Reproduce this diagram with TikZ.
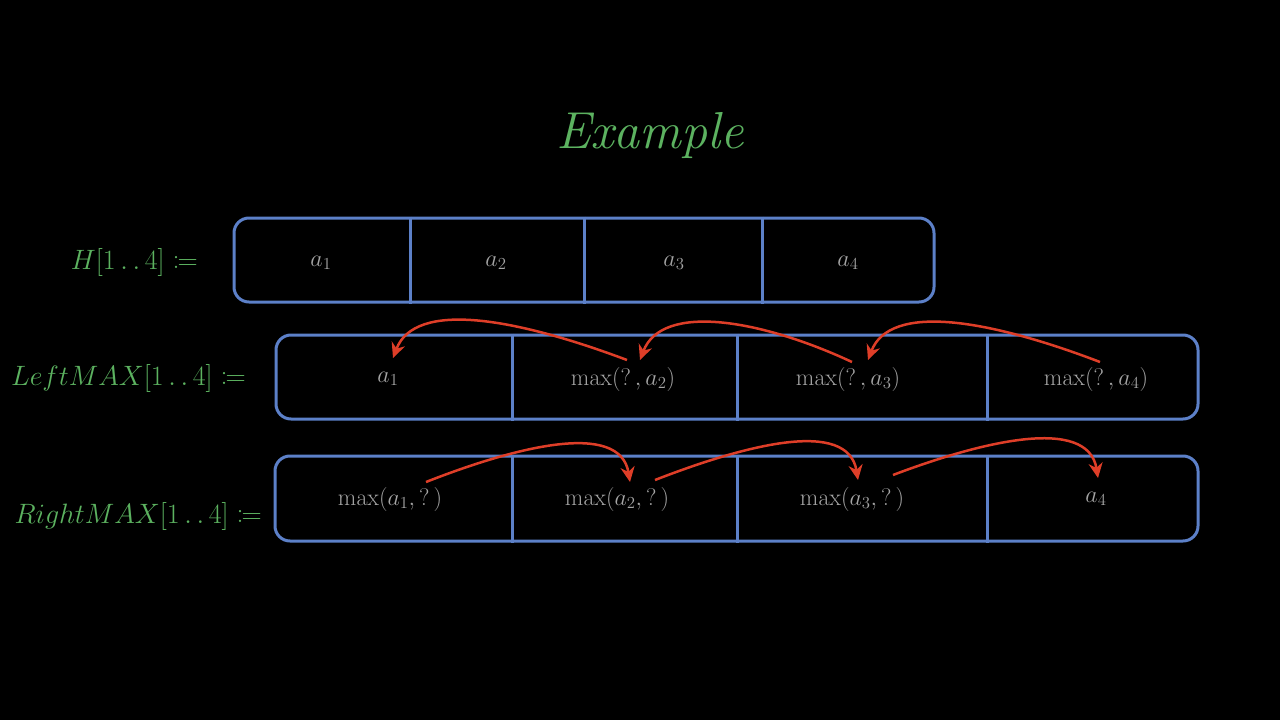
\RequirePackage{fix-cm}
\documentclass[tikz,border=0pt]{standalone}
\usepackage{amsmath,mathtools}
\usetikzlibrary{arrows.meta}
\definecolor{bg}{RGB}{0,0,0}
\definecolor{boxblue}{RGB}{92,128,200}
\definecolor{txtgray}{RGB}{165,165,165}
\definecolor{lblgreen}{RGB}{92,178,96}
\definecolor{arrred}{RGB}{222,62,40}
\newcommand{\rng}{[1\mathinner{\ldotp\ldotp}4]}
\tikzset{
 rowbox/.style={draw=boxblue, line width=3pt, rounded corners=15pt, inner sep=0pt},
 divider/.style={draw=boxblue, line width=3pt},
 celltext/.style={text=txtgray, font=\fontsize{24}{28}\selectfont, inner sep=0pt},
 lbl/.style={text=lblgreen, font=\fontsize{28}{32}\selectfont, inner sep=0pt},
 curvearrow/.style={draw=arrred, line width=2.5pt, -{Stealth[length=15pt,width=14pt]}},
}
\begin{document}
\begin{tikzpicture}[x=1pt,y=-1pt]
\fill[bg] (0,0) rectangle (1280,720);
\useasboundingbox (0,0) rectangle (1280,720);

\node[text=lblgreen, font=\fontsize{52}{60}\selectfont\itshape] (title) at (650,135) {Example};

% Row H
\node[rowbox, minimum width=700pt, minimum height=84pt] (hbox) at (584,260) {};
\foreach \x in {410,584,762}{
  \draw[divider] (hbox.north -| \x,0) -- (hbox.south -| \x,0);
}
\node[lbl, anchor=east] (hlbl) at (198,262) {$H\rng \coloneqq$};
\node[celltext] (h1) at (321,263) {$a_1$};
\node[celltext] (h2) at (496,263) {$a_2$};
\node[celltext] (h3) at (674,263) {$a_3$};
\node[celltext] (h4) at (848,263) {$a_4$};

% Row LeftMAX
\node[rowbox, minimum width=922pt, minimum height=84pt] (lbox) at (737,377) {};
\foreach \x in {512,737,987}{
  \draw[divider] (lbox.north -| \x,0) -- (lbox.south -| \x,0);
}
\node[lbl, anchor=east] (llbl) at (246,378) {$LeftMAX\rng \coloneqq$};
\node[celltext] (l1) at (388,379) {$a_1$};
\node[celltext] (l2) at (623,379) {$\max(?\,,a_2)$};
\node[celltext] (l3) at (848,379) {$\max(?\,,a_3)$};
\node[celltext] (l4) at (1096,379) {$\max(?\,,a_4)$};

% Row RightMAX
\node[rowbox, minimum width=923pt, minimum height=85pt] (rbox) at (736.5,498.5) {};
\foreach \x in {512,737,987}{
  \draw[divider] (rbox.north -| \x,0) -- (rbox.south -| \x,0);
}
\node[lbl, anchor=east] (rlbl) at (262,516) {$RightMAX\rng \coloneqq$};
\node[celltext] (r1) at (390,499) {$\max(a_1,?\,)$};
\node[celltext] (r2) at (617,499) {$\max(a_2,?\,)$};
\node[celltext] (r3) at (852,499) {$\max(a_3,?\,)$};
\node[celltext] (r4) at (1096,499) {$a_4$};

% arrow endpoints
\coordinate (la1s) at (627,360); \coordinate (la1e) at (393,358);
\coordinate (la2s) at (852,362); \coordinate (la2e) at (640,360);
\coordinate (la3s) at (1100,362); \coordinate (la3e) at (868,360);
\coordinate (ra1s) at (426,482); \coordinate (ra1e) at (630,482);
\coordinate (ra2s) at (655,480); \coordinate (ra2e) at (858,480);
\coordinate (ra3s) at (893,475); \coordinate (ra3e) at (1098,478);

\draw[curvearrow] (la1s) .. controls (515,318) and (415,300) .. (la1e);
\draw[curvearrow] (la2s) .. controls (762,320) and (662,302) .. (la2e);
\draw[curvearrow] (la3s) .. controls (990,320) and (890,302) .. (la3e);

\draw[curvearrow] (ra1s) .. controls (515,447) and (620,420) .. (ra1e);
\draw[curvearrow] (ra2s) .. controls (745,445) and (848,418) .. (ra2e);
\draw[curvearrow] (ra3s) .. controls (980,442) and (1088,415) .. (ra3e);
\end{tikzpicture}
\end{document}
